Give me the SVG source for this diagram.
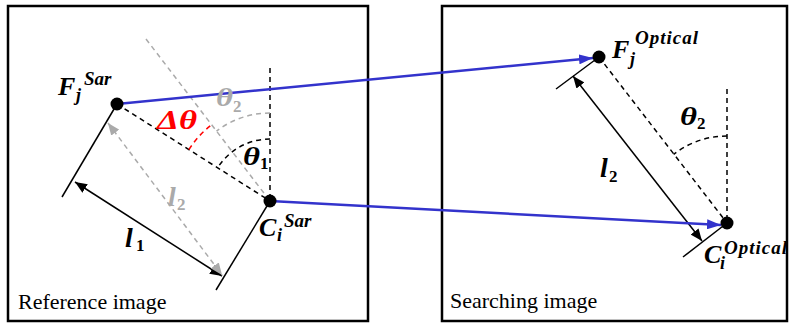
<svg xmlns="http://www.w3.org/2000/svg" width="790" height="327" viewBox="0 0 790 327" font-family="'Liberation Serif', 'Times New Roman', 'DejaVu Serif', serif">
<style>
.frame{fill:none;stroke:#000;stroke-width:2.5}
.dash{fill:none;stroke:#000;stroke-width:1.5;stroke-dasharray:5,4}
.gdash{fill:none;stroke:#aaa;stroke-width:1.5;stroke-dasharray:5,4}
.rdash{fill:none;stroke:#f00;stroke-width:1.5;stroke-dasharray:5,4}
.solid{fill:none;stroke:#000;stroke-width:1.5}
.blue{fill:none;stroke:#3333cc;stroke-width:2.5}
.m{font-weight:bold;font-style:italic}
.sub{font-weight:bold}
.cap{font-size:22px}
</style>
<defs>
<marker id="ab" markerUnits="userSpaceOnUse" markerWidth="12" markerHeight="10" refX="12" refY="5" orient="auto-start-reverse"><path d="M0,0 L12,5 L0,10 z" fill="#000"/></marker>
<marker id="ag" markerUnits="userSpaceOnUse" markerWidth="12" markerHeight="10" refX="12" refY="5" orient="auto-start-reverse"><path d="M0,0 L12,5 L0,10 z" fill="#aaa"/></marker>
<marker id="abl" markerUnits="userSpaceOnUse" markerWidth="14" markerHeight="10" refX="14" refY="5" orient="auto"><path d="M0,0 L14,5 L0,10 z" fill="#3333cc"/></marker>
</defs>

<g id="reference-image">
<rect class="frame" x="8" y="6" width="360" height="315"/>
<text class="cap" x="18" y="309">Reference image</text>
</g>
<g id="searching-image">
<rect class="frame" x="442" y="6" width="345" height="315"/>
<text class="cap" x="450" y="308">Searching image</text>
</g>

<g id="ref-geometry">
<line class="gdash" x1="146" y1="39" x2="270" y2="201"/>
<line class="dash" x1="270" y1="68" x2="270" y2="201"/>
<line class="dash" x1="117" y1="104" x2="270" y2="201"/>
<path class="dash" d="M270,139 A62,62 0 0 0 217.6,167.8"/>
<path class="gdash" d="M270,113 A88,88 0 0 0 216.5,131.1"/>
<path class="rdash" d="M188.9,149.6 A96,96 0 0 1 211.6,124.8"/>
<line class="solid" x1="117" y1="104" x2="62" y2="197"/>
<line class="solid" x1="270" y1="201" x2="216" y2="290"/>
<line class="solid" x1="75" y1="182" x2="222" y2="276" marker-start="url(#ab)" marker-end="url(#ab)"/>
<line class="gdash" x1="108" y1="123" x2="222" y2="275" marker-start="url(#ag)" marker-end="url(#ag)"/>
</g>

<g id="search-geometry">
<line class="dash" x1="727" y1="89" x2="727" y2="223"/>
<line class="dash" x1="599" y1="57" x2="727" y2="223"/>
<path class="dash" d="M727,136 A87,87 0 0 0 673.6,154.3"/>
<line class="solid" x1="599" y1="57" x2="556" y2="89"/>
<line class="solid" x1="727" y1="223" x2="683" y2="257"/>
<line class="solid" x1="573" y1="76" x2="702" y2="241" marker-start="url(#ab)" marker-end="url(#ab)"/>
</g>

<g id="connectors">
<line class="blue" x1="117" y1="104" x2="593" y2="58" marker-end="url(#abl)"/>
<line class="blue" x1="270" y1="201" x2="721" y2="225" marker-end="url(#abl)"/>
</g>

<g id="node-Fj-sar">
<circle cx="117" cy="104" r="6.5" fill="#000"/>
<text class="m" x="58" y="95" font-size="26">F</text>
<text class="m" x="76" y="101" font-size="18">j</text>
<text class="m" x="84" y="85" font-size="19">Sar</text>
</g>
<g id="node-Ci-sar">
<circle cx="270" cy="201" r="6.5" fill="#000"/>
<text class="m" x="259" y="236" font-size="26">C</text>
<text class="m" x="277" y="241" font-size="18">i</text>
<text class="m" x="284" y="227" font-size="19">Sar</text>
</g>
<g id="node-Fj-optical">
<circle cx="599" cy="57" r="6.5" fill="#000"/>
<text class="m" x="612" y="58" font-size="26">F</text>
<text class="m" x="630" y="65" font-size="18">j</text>
<text class="m" x="635" y="44" font-size="19" textLength="63">Optical</text>
</g>
<g id="node-Ci-optical">
<circle cx="727" cy="223" r="6.5" fill="#000"/>
<text class="m" x="704" y="263" font-size="26">C</text>
<text class="m" x="720" y="269" font-size="18">i</text>
<text class="m" x="724" y="254" font-size="19" textLength="63">Optical</text>
</g>

<g id="labels">
<text class="m" x="243" y="165" font-size="26" textLength="17" lengthAdjust="spacingAndGlyphs">θ</text>
<text class="sub" x="260" y="169" font-size="17">1</text>
<text class="m" x="216" y="106" font-size="26" fill="#aaa" textLength="17" lengthAdjust="spacingAndGlyphs">θ</text>
<text class="sub" x="233" y="112" font-size="17" fill="#aaa">2</text>
<text class="m" x="157" y="129" font-size="27" fill="#f00" textLength="40" lengthAdjust="spacingAndGlyphs">Δθ</text>
<text class="m" x="125" y="247" font-size="28">l</text>
<text class="sub" x="136" y="251" font-size="17">1</text>
<text class="m" x="168" y="206" font-size="28" fill="#aaa">l</text>
<text class="sub" x="177" y="210" font-size="17" fill="#aaa">2</text>
<text class="m" x="600" y="177" font-size="28">l</text>
<text class="sub" x="609" y="182" font-size="17">2</text>
<text class="m" x="680" y="125" font-size="26" textLength="17" lengthAdjust="spacingAndGlyphs">θ</text>
<text class="sub" x="697" y="129" font-size="17">2</text>
</g>
</svg>
